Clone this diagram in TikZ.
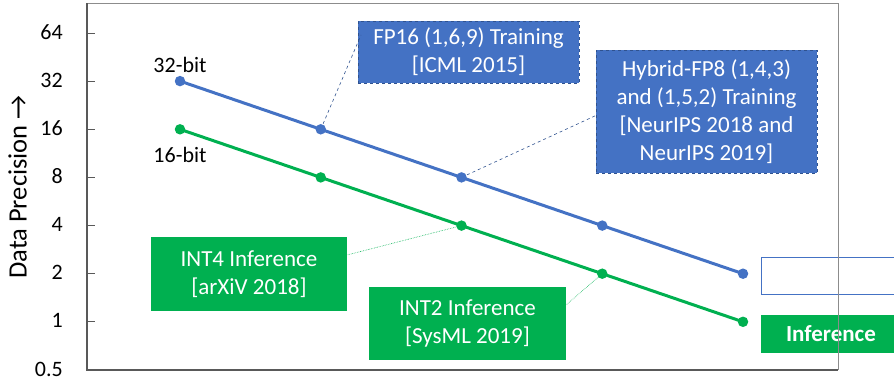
\documentclass[tikz,border=0pt]{standalone}
\usepackage{fontspec}
\setmainfont{Carlito}
\definecolor{lineblue}{HTML}{4472C4}
\definecolor{linegreen}{HTML}{00B050}
\definecolor{edgeblue}{HTML}{2F528F}
\definecolor{framegray}{HTML}{8C8C8C}
\definecolor{axisgray}{HTML}{595959}
\tikzset{
  series/.style={line width=3pt},
  dot/.style={circle, inner sep=0pt, minimum size=10.5pt, fill=#1},
  ticklabel/.style={anchor=east, inner sep=0pt, font=\fontsize{22}{26}\selectfont},
  seriestag/.style={inner sep=0pt, font=\fontsize{22}{26}\selectfont},
  bluebox/.style={fill=lineblue, draw=edgeblue, dashed, line width=0.6pt,
    text=white, align=center, inner sep=0pt,
    font=\fontsize{23}{28}\selectfont},
  greenbox/.style={fill=linegreen, text=white, align=center, inner sep=0pt,
    font=\fontsize{23}{28}\selectfont},
  bluelead/.style={edgeblue, dashed, line width=0.6pt},
  greenlead/.style={linegreen, densely dotted, line width=0.6pt},
}
\begin{document}
\begin{tikzpicture}[x=1pt, y=-1pt]
\useasboundingbox (0,0) rectangle (894,380);
\begin{scope}
\clip (0,0) rectangle (894,380);

% y-axis title
\node[rotate=90, inner sep=0pt, font=\fontsize{26.5}{30}\selectfont] (ytitle) at (17.5,187)
  {Data Precision →};

% tick labels, one doubling every 48.14 units
\foreach \v [count=\i from 0] in {64,32,16,8,4,2,1,0.5} {
  \node[ticklabel] (tick\i) at (63,{32+48.14*\i}) {\v};
  \draw[axisgray, line width=1pt] (87,{33+48.14*\i}) -- (95,{33+48.14*\i});
}

% data positions
\coordinate (b1) at (180,81.1);
\coordinate (b2) at (320.75,129.3);
\coordinate (b3) at (461.5,177.4);
\coordinate (b4) at (602.25,225.6);
\coordinate (b5) at (743,273.7);
\coordinate (g1) at (180,129.3);
\coordinate (g2) at (320.75,177.4);
\coordinate (g3) at (461.5,225.6);
\coordinate (g4) at (602.25,273.7);
\coordinate (g5) at (743,321.8);

% annotation boxes
\node[bluebox, minimum width=221pt, minimum height=62pt] (fp16) at (468.5,52)
  {FP16 (1,6,9) Training\\{}[ICML 2015]};
\node[bluebox, minimum width=221pt, minimum height=123pt] (hyb) at (706.5,111.5)
  {Hybrid-FP8 (1,4,3)\\and (1,5,2) Training\\{}[NeurIPS 2018 and\\NeurIPS 2019]};
\node[greenbox, minimum width=196pt, minimum height=74pt] (int4) at (249,274)
  {INT4 Inference\\{}[arXiV 2018]};
\node[greenbox, minimum width=197pt, minimum height=73pt] (int2) at (467.5,323.5)
  {INT2 Inference\\{}[SysML 2019]};
\node[draw=lineblue, line width=0.6pt, minimum width=140pt, minimum height=37pt,
  inner sep=0pt] (legtrain) at (831,275.5) {};
\node[greenbox, minimum width=140pt, minimum height=38pt,
  font=\fontsize{23}{28}\selectfont\bfseries] (leginf) at (831,334) {Inference};

% leader lines
\coordinate (fp16tip) at (361,35);
\coordinate (hybtip) at (597,115);
\coordinate (int4tip) at (347,255);
\coordinate (int2tip) at (566,305);
\draw[bluelead] (b2) -- (fp16tip);
\draw[bluelead] (b3) -- (hybtip);
\draw[greenlead] (g3) -- (int4tip);
\draw[greenlead] (g4) -- (int2tip);

% series
\draw[series, lineblue] (b1) -- (b2) -- (b3) -- (b4) -- (b5);
\draw[series, linegreen] (g1) -- (g2) -- (g3) -- (g4) -- (g5);
\foreach \p in {b1,b2,b3,b4,b5} \node[dot=lineblue] (d\p) at (\p) {};
\foreach \p in {g1,g2,g3,g4,g5} \node[dot=linegreen] (d\p) at (\p) {};

\node[seriestag] (tag32) at (180,65) {32-bit};
\node[seriestag] (tag16) at (180,155) {16-bit};

% plot frame
\draw[framegray, line width=1pt] (87,3) -- (838,3) -- (838,370);
\draw[axisgray, line width=1.6pt] (87,3) -- (87,370) -- (838,370);
\end{scope}
\end{tikzpicture}
\end{document}
